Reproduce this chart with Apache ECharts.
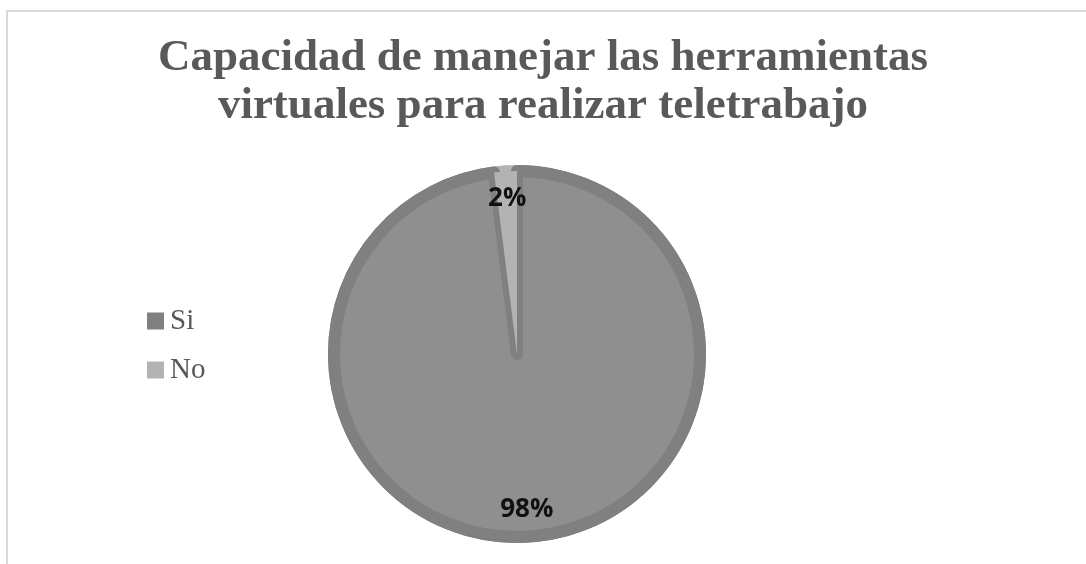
<!DOCTYPE html>
<html>
<head>
<meta charset="utf-8">
<script src="https://cdn.jsdelivr.net/npm/echarts@6/dist/echarts.min.js"></script>
<style>
  html, body { margin: 0; padding: 0; background: #fff; overflow: hidden; }
  #frame {
    position: absolute; left: 6px; top: 10px; width: 1200px; height: 700px;
    border-left: 2px solid #d9d9d9; border-top: 2px solid #d9d9d9;
  }
  #chart { position: absolute; left: 0; top: 0; width: 1086px; height: 564px; }
</style>
</head>
<body>
<div id="frame"></div>
<div id="chart"></div>
<script>
const titleLines = ['Capacidad de manejar las herramientas', 'virtuales para realizar teletrabajo']
const categories = ['Si', 'No']
const values = [98, 2]
const fillColors = ['#8f8f8f', '#b3b3b3']
const edgeColors = ['#808080', '#b3b3b3']

const center = [517, 354]

const chart = echarts.init(document.getElementById('chart'))

chart.setOption({
  animation: false,
  title: {
    text: titleLines.join('\n'),
    left: 'center',
    top: 34,
    padding: [0, 0, 0, 18],
    textStyle: {
      fontFamily: 'Liberation Serif',
      fontWeight: 'bold',
      fontSize: 45,
      lineHeight: 48,
      color: '#595959'
    }
  },
  legend: {
    data: categories,
    orient: 'vertical',
    left: 142,
    top: 301,
    itemWidth: 17,
    itemHeight: 17,
    itemGap: 19,
    icon: 'rect',
    itemStyle: { borderWidth: 0 },
    textStyle: {
      fontFamily: 'Liberation Serif',
      fontSize: 29,
      lineHeight: 30,
      color: '#595959',
      padding: [0, 0, 0, 1]
    }
  },
  series: [
    {
      // outer ring colour (slice edges)
      type: 'pie',
      center: center,
      radius: 189,
      silent: true,
      label: { show: false },
      labelLine: { show: false },
      emphasis: { disabled: true },
      data: categories.map((c, i) => ({
        name: c,
        value: values[i],
        itemStyle: { color: edgeColors[i], borderWidth: 0 }
      }))
    },
    {
      type: 'pie',
      center: center,
      radius: 183,
      label: { show: false },
      labelLine: { show: false },
      emphasis: { disabled: true },
      data: categories.map((c, i) => ({
        name: c,
        value: values[i],
        itemStyle: {
          color: fillColors[i],
          borderColor: edgeColors[i],
          borderWidth: i === 0 ? 12 : 0
        }
      }))
    },
    {
      // invisible ring, only places the labels near the outer edge
      type: 'pie',
      center: center,
      radius: [116, 190],
      silent: true,
      itemStyle: { color: 'rgba(0,0,0,0)', borderWidth: 0 },
      label: {
        show: true,
        position: 'inside',
        formatter: '{d}%',
        fontFamily: 'Open Sans',
        fontWeight: 'bold',
        fontSize: 26,
        color: '#111'
      },
      labelLine: { show: false },
      emphasis: { disabled: true },
      data: categories.map((c, i) => ({ name: c, value: values[i] }))
    }
  ]
})
</script>
</body>
</html>
